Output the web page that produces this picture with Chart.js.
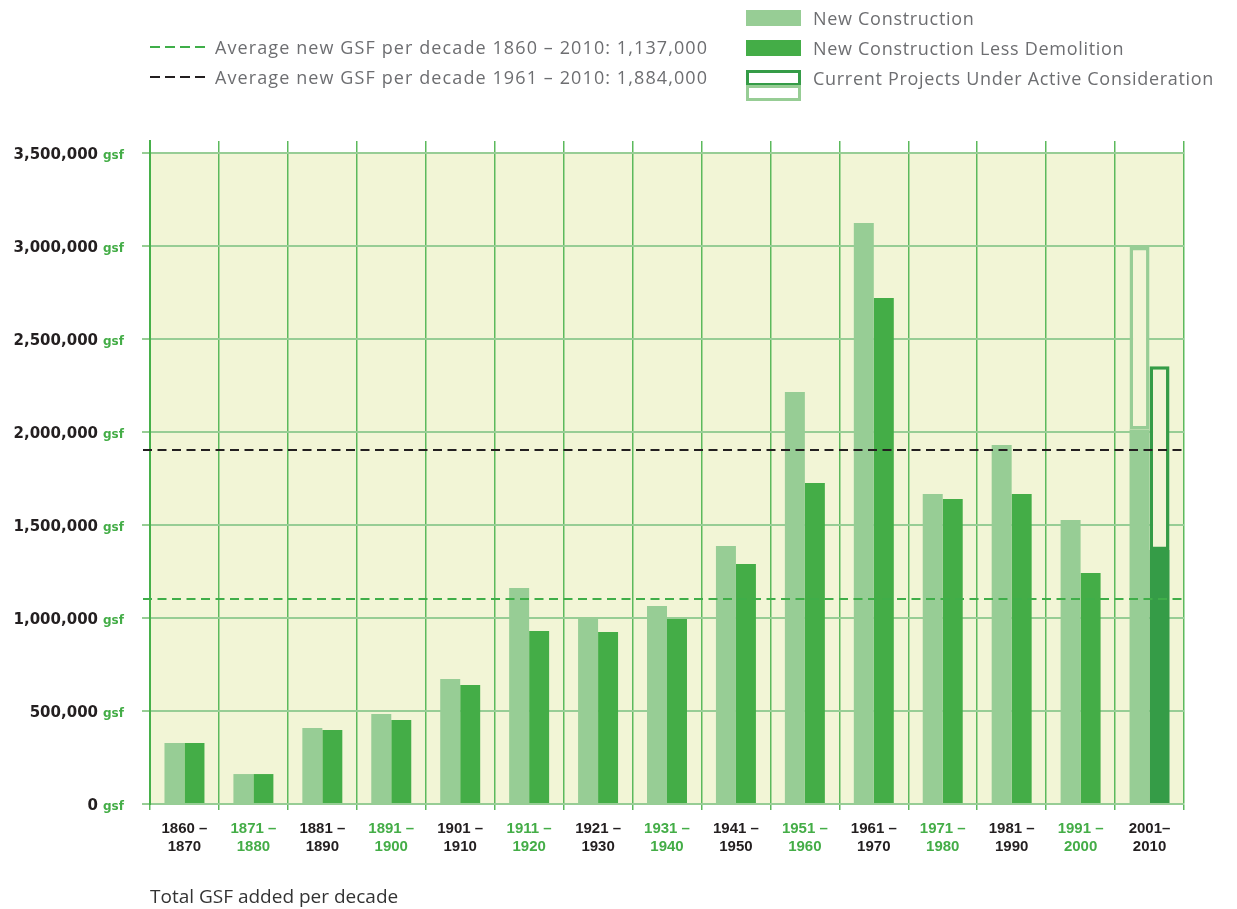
<!DOCTYPE html>
<html>
<head>
<meta charset="utf-8">
<title>Total GSF added per decade</title>
<script src="https://cdn.jsdelivr.net/npm/chart.js@4/dist/chart.umd.min.js"></script>
<style>
  html, body { margin: 0; padding: 0; background: #fff; }
  #wrap { position: relative; width: 1237px; height: 909px; }
  #chart { position: absolute; left: 0; top: 0; }
  .lg { position: absolute; font-family: "Open Sans", sans-serif; font-size: 18px; color: #6d6e71; white-space: nowrap; line-height: 20px; letter-spacing: 0.7px; }
  .lg.avg { letter-spacing: 1.1px; }
  .dash { position: absolute; height: 2px; width: 55px;
          background: repeating-linear-gradient(to right, var(--c) 0 10px, transparent 10px 15px); }
  .sw { position: absolute; width: 55px; height: 16px; box-sizing: border-box; }
</style>
</head>
<body>
<div id="wrap">
  <canvas id="chart" width="1237" height="909"></canvas>

  <div class="dash" style="--c:#3fae49; left:150px; top:46px;"></div>
  <div class="lg avg" style="left:215px; top:37px;">Average new GSF per decade 1860 – 2010: 1,137,000</div>
  <div class="dash" style="--c:#231f20; left:150px; top:76px;"></div>
  <div class="lg avg" style="left:215px; top:67px;">Average new GSF per decade 1961 – 2010: 1,884,000</div>

  <div class="sw" style="left:746px; top:10px; background:#97cd95;"></div>
  <div class="lg" style="left:813px; top:8px;">New Construction</div>
  <div class="sw" style="left:746px; top:40px; background:#44ad47;"></div>
  <div class="lg" style="left:813px; top:38px;">New Construction Less Demolition</div>
  <div class="sw" style="left:746px; top:70px; height:16px; border:3px solid #359c47; background:#fff;"></div>
  <div class="sw" style="left:746px; top:85px; height:16px; border:3px solid #97cd95; background:#fff;"></div>
  <div class="lg" style="left:813px; top:68px;">Current Projects Under Active Consideration</div>
</div>

<script>
// decades
const decades = [
  ['1860 –', '1870'], ['1871 –', '1880'], ['1881 –', '1890'], ['1891 –', '1900'],
  ['1901 –', '1910'], ['1911 –', '1920'], ['1921 –', '1930'], ['1931 –', '1940'],
  ['1941 –', '1950'], ['1951 –', '1960'], ['1961 –', '1970'], ['1971 –', '1980'],
  ['1981 –', '1990'], ['1991 –', '2000'], ['2001–', '2010']
];

// gsf values
const newConstruction = [328000, 161000, 409000, 484000, 672000, 1161000, 1000000, 1065000,
  1387000, 2215000, 3124000, 1667000, 1930000, 1527000, 2013000];
const lessDemolition = [328000, 161000, 398000, 452000, 640000, 930000, 925000, 995000,
  1290000, 1726000, 2720000, 1640000, 1667000, 1242000, 1366000];
// current projects under active consideration (stacked on top, last decade only)
const projectsNew = [null, null, null, null, null, null, null, null, null, null, null, null, null, null, 982000];
const projectsLess = [null, null, null, null, null, null, null, null, null, null, null, null, null, null, 987000];

// average lines as drawn
const avgAll = 1100000;
const avgRecent = 1905000;

const yTicks = [0, 500000, 1000000, 1500000, 2000000, 2500000, 3000000, 3500000];
const yTop = 3564500;

const LIGHT = '#97cd95';
const MID = '#44ad47';
const DARK = '#359c47';
const BG = '#f2f5d6';
const INK = '#231f20';

const extras = {
  id: 'extras',
  beforeDraw(chart) {
    const {ctx, chartArea: a, scales: {y}} = chart;
    ctx.save();
    ctx.fillStyle = BG;
    const t = y.getPixelForValue(3500000);
    ctx.fillRect(a.left, t, a.right - a.left, a.bottom - t);
    ctx.restore();
  },
  afterDatasetsDraw(chart) {
    const {ctx, chartArea: a, scales: {y}} = chart;
    ctx.save();
    ctx.lineWidth = 2;
    ctx.setLineDash([9, 5.5]);
    [[avgAll, '#3fae49'], [avgRecent, '#231f20']].forEach(([v, c]) => {
      const py = Math.round(y.getPixelForValue(v));
      ctx.strokeStyle = c;
      ctx.beginPath();
      ctx.moveTo(a.left - 7, py);
      ctx.lineTo(a.right + 2, py);
      ctx.stroke();
    });
    ctx.restore();
  },
  afterDraw(chart) {
    const {ctx, scales: {y}} = chart;
    ctx.save();
    yTicks.forEach(v => {
      const py = y.getPixelForValue(v) + 6;
      ctx.textAlign = 'right';
      ctx.fillStyle = INK;
      ctx.font = 'bold 15px "DejaVu Sans"';
      ctx.fillText(v.toLocaleString('en-US'), 98, py);
      ctx.textAlign = 'left';
      ctx.fillStyle = MID;
      ctx.font = 'bold 12px "DejaVu Sans"';
      ctx.fillText('gsf', 103, py);
    });
    ctx.restore();
  }
};

new Chart(document.getElementById('chart'), {
  type: 'bar',
  data: {
    labels: decades,
    datasets: [
      {
        label: 'New Construction',
        data: newConstruction,
        stack: 'a',
        backgroundColor: LIGHT,
        borderWidth: 0
      },
      {
        label: 'New Construction Less Demolition',
        data: lessDemolition,
        stack: 'b',
        backgroundColor: lessDemolition.map((v, i) => i === lessDemolition.length - 1 ? DARK : MID),
        borderWidth: 0
      },
      {
        label: 'Current Projects (new)',
        data: projectsNew,
        stack: 'a',
        backgroundColor: BG,
        borderColor: LIGHT,
        borderWidth: 3.5,
        borderSkipped: false
      },
      {
        label: 'Current Projects (less demolition)',
        data: projectsLess,
        stack: 'b',
        backgroundColor: BG,
        borderColor: DARK,
        borderWidth: 3.5,
        borderSkipped: false
      }
    ]
  },
  options: {
    responsive: false,
    animation: false,
    layout: { padding: { left: 0, right: 53, top: 141, bottom: 0 } },
    datasets: { bar: { categoryPercentage: 0.58, barPercentage: 1.0 } },
    plugins: {
      legend: { display: false },
      tooltip: { enabled: false }
    },
    scales: {
      x: {
        stacked: true,
        afterFit(s) { s.height = 105; },
        grid: {
          offset: true,
          color: c => c.index === decades.length ? LIGHT : '#5cb95c',
          lineWidth: 1.5,
          tickLength: 6
        },
        border: { color: LIGHT, width: 2 },
        ticks: {
          padding: 10,
          maxRotation: 0,
          autoSkip: false,
          color: c => c.index % 2 ? MID : INK,
          font: { family: 'Liberation Sans', weight: 'bold', size: 15, lineHeight: 1.2 }
        },
        title: {
          display: true,
          align: 'start',
          text: 'Total GSF added per decade',
          color: '#333333',
          font: { family: 'Open Sans', size: 19, lineHeight: 1.2 },
          padding: { top: 0, bottom: 0 }
        }
      },
      y: {
        stacked: true,
        min: 0,
        max: yTop,
        afterFit(s) { s.width = 150; },
        afterBuildTicks(s) { s.ticks = yTicks.map(v => ({ value: v })); },
        grid: { color: LIGHT, lineWidth: 2, tickLength: 8 },
        border: { color: '#47b04a', width: 2 },
        ticks: { display: false }
      }
    }
  },
  plugins: [extras]
});
</script>
</body>
</html>
